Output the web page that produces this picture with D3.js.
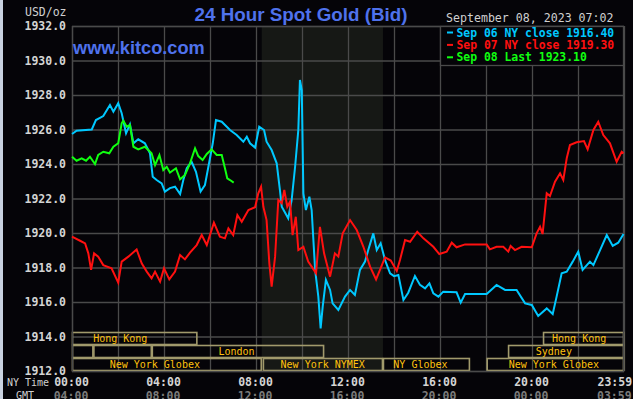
<!DOCTYPE html>
<html>
<head>
<meta charset="utf-8">
<script src="https://cdn.jsdelivr.net/npm/d3@7"></script>
<style>
  html, body { margin: 0; padding: 0; background: #050408; }
  svg { display: block; }
</style>
</head>
<body>
<div id="chart"></div>
<script>
// 24 hour spot gold chart, three days overlaid on a NY-time axis

// Sep 06 (cyan)
const sep06Hours = [0, 0.2, 0.86, 1.04, 1.36, 1.65, 1.8, 2.01, 2.16, 2.35, 2.52, 2.67, 2.88, 3.17, 3.39, 3.51, 3.68, 3.9,
  4.04, 4.26, 4.48, 4.7, 4.84, 4.99, 5.2, 5.39, 5.59, 5.78, 5.93, 6.12, 6.26, 6.51, 6.87, 7.16, 7.45, 7.6, 7.74, 7.96,
  8.14, 8.35, 8.46, 8.68, 8.9, 9.04, 9.12, 9.4, 9.55, 9.7, 9.84, 9.91, 9.99, 10.06, 10.17, 10.32, 10.42, 10.57, 10.71,
  10.81, 10.9, 11.04, 11.22, 11.33, 11.58, 11.87, 12.09, 12.3, 12.52, 12.74, 12.88, 13.1, 13.25, 13.42, 13.61, 13.83,
  14.0, 14.19, 14.41, 14.62, 14.91, 15.13, 15.35, 15.54, 15.71, 15.93, 16.14, 16.72, 16.9, 17.09, 18.03, 18.46, 18.83,
  19.33, 19.7, 19.99, 20.27, 20.64, 20.9, 21.07, 21.29, 21.51, 21.77, 22.01, 22.2, 22.52, 22.67, 22.96, 23.25, 23.51,
  23.75, 23.98];
const sep06Prices = [1925.74, 1925.93, 1926.0, 1926.55, 1926.78, 1927.42, 1927.03, 1927.52, 1926.94, 1925.78, 1926.3,
  1925.2, 1925.43, 1925.2, 1924.62, 1923.26, 1923.07, 1922.88, 1922.4, 1922.6, 1922.68, 1922.26, 1923.07, 1923.75,
  1924.13, 1923.55, 1922.4, 1922.78, 1923.84, 1925.2, 1926.55, 1926.45, 1925.97, 1925.68, 1925.29, 1925.58, 1925.2,
  1924.95, 1926.16, 1925.97, 1925.29, 1924.81, 1924.04, 1922.49, 1921.52, 1920.85, 1921.91, 1923.84, 1925.97, 1928.87,
  1928.29, 1922.3, 1921.33, 1922.1, 1921.33, 1917.86, 1916.31, 1914.47, 1915.73, 1917.28, 1916.7, 1915.92, 1915.54,
  1916.31, 1916.7, 1916.41, 1917.86, 1918.34, 1919.01, 1919.98, 1919.01, 1919.4, 1918.43, 1917.66, 1917.5, 1917.57,
  1916.12, 1916.54, 1917.51, 1916.99, 1916.79, 1917.08, 1916.5, 1916.31, 1916.6, 1916.56, 1915.96, 1916.46, 1916.46,
  1916.99, 1916.7, 1916.7, 1915.92, 1915.83, 1915.19, 1915.63, 1915.3, 1916.31, 1917.66, 1917.76, 1918.34, 1918.92,
  1917.86, 1918.34, 1918.14, 1919.01, 1919.88, 1919.25, 1919.44, 1919.94];

// Sep 07 (red)
const sep07Hours = [0, 0.35, 0.57, 0.71, 0.83, 0.96, 1.14, 1.36, 1.72, 2.01, 2.16, 2.45, 2.81, 3.03, 3.25, 3.46, 3.61,
  3.83, 4.0, 4.23, 4.48, 4.7, 4.91, 5.13, 5.42, 5.64, 5.86, 6.17, 6.43, 6.65, 6.8, 7.01, 7.19, 7.38, 7.67, 7.96, 8.1,
  8.22, 8.32, 8.46, 8.58, 8.68, 8.83, 8.97, 9.12, 9.23, 9.36, 9.48, 9.59, 9.73, 9.84, 10.06, 10.27, 10.42, 10.61,
  10.78, 10.96, 11.22, 11.43, 11.58, 11.77, 12.09, 12.38, 12.67, 12.96, 13.22, 13.39, 13.61, 13.86, 14.12, 14.26,
  14.48, 14.7, 15.01, 15.28, 15.71, 15.97, 16.29, 16.51, 16.72, 17.09, 18.03, 18.17, 18.46, 18.75, 18.97, 19.07,
  19.26, 19.55, 19.99, 20.2, 20.35, 20.46, 20.64, 20.78, 21.0, 21.22, 21.36, 21.51, 21.65, 21.94, 22.26, 22.42,
  22.67, 22.88, 23.1, 23.39, 23.68, 23.9, 23.98];
const sep07Prices = [1919.79, 1919.55, 1919.4, 1918.82, 1917.86, 1918.82, 1918.63, 1918.14, 1917.95, 1917.12, 1918.34,
  1918.63, 1919.05, 1918.24, 1917.76, 1917.37, 1917.76, 1917.18, 1917.95, 1917.31, 1917.76, 1918.72, 1918.47, 1918.86,
  1919.3, 1919.88, 1919.3, 1920.6, 1919.79, 1919.69, 1920.27, 1919.88, 1921.04, 1920.65, 1921.33, 1921.49, 1922.3,
  1922.68, 1921.52, 1920.75, 1918.24, 1916.89, 1918.63, 1921.91, 1921.72, 1922.49, 1921.52, 1921.81, 1919.88, 1920.94,
  1919.01, 1919.2, 1918.34, 1918.05, 1917.66, 1920.36, 1918.82, 1917.47, 1918.82, 1918.63, 1919.98, 1920.75, 1920.17,
  1919.2, 1918.05, 1917.31, 1917.86, 1918.59, 1918.4, 1917.8, 1918.43, 1919.59, 1919.49, 1920.07, 1919.69, 1919.2,
  1918.78, 1918.92, 1919.44, 1919.17, 1919.34, 1919.34, 1919.05, 1919.2, 1919.2, 1918.92, 1919.25, 1919.01, 1919.2,
  1919.17, 1919.98, 1920.36, 1919.94, 1922.3, 1922.14, 1922.97, 1923.46, 1923.07, 1924.33, 1925.1, 1925.26, 1925.33,
  1924.85, 1925.97, 1926.45, 1925.68, 1925.2, 1924.13, 1924.71, 1924.62];

// Sep 08 (green, partial day up to 07:02)
const sep08Hours = [0, 0.2, 0.42, 0.61, 0.78, 1.0, 1.14, 1.36, 1.62, 1.8, 2.01, 2.16, 2.23, 2.38, 2.52, 2.67, 2.88,
  3.17, 3.46, 3.61, 3.8, 3.97, 4.12, 4.26, 4.52, 4.7, 4.91, 5.13, 5.35, 5.49, 5.68, 5.86, 6.07, 6.29, 6.51, 6.65,
  6.75, 6.87, 7.03];
const sep08Prices = [1924.42, 1924.19, 1924.33, 1924.19, 1924.42, 1924.0, 1924.52, 1924.71, 1924.62, 1925.0, 1925.2,
  1926.36, 1926.51, 1926.16, 1926.26, 1925.0, 1924.85, 1925.0, 1924.62, 1923.94, 1924.52, 1923.65, 1923.84, 1923.5,
  1923.75, 1923.11, 1923.36, 1924.04, 1924.91, 1924.46, 1924.23, 1924.58, 1924.85, 1924.52, 1924.52, 1923.75,
  1923.17, 1923.07, 1922.92];

const legendLabels = ['Sep 06 NY close 1916.40', 'Sep 07 NY close 1919.30', 'Sep 08 Last 1923.10'];
const seriesColors = ['#00c8ff', '#ff1010', '#10ff10'];

const yTicks = [1912, 1914, 1916, 1918, 1920, 1922, 1924, 1926, 1928, 1930, 1932];
const gridHours = [0, 2, 4, 6, 8, 10, 12, 14, 16, 18, 20, 22, 24];
const nyTickHours = [0, 4, 8, 12, 16, 20, 23.983];
const nyTickLabels = ['00:00', '04:00', '08:00', '12:00', '16:00', '20:00', '23:59'];
const gmtTickLabels = ['04:00', '08:00', '12:00', '16:00', '20:00', '00:00', '03:59'];

// trading sessions strip (row 0 = top)
const sessionNames = ['Hong Kong', '', '', 'London', 'New York Globex', 'New York NYMEX', 'NY Globex',
  'New York Globex', 'Sydney', 'Hong Kong'];
const sessionStart = [0, 0, 0.93, 3.47, 0, 8.3, 13.52, 18.03, 18.96, 20.48];
const sessionEnd = [5.45, 0.93, 3.47, 10.96, 8.25, 13.52, 17.3, 24, 24, 24];
const sessionRow = [0, 1, 1, 1, 2, 2, 2, 2, 1, 0];
const sessionLabelHour = [2.1, 0, 0, 7.15, 3.6, 10.9, 15.15, 20.95, 20.95, 22.05];

const nymexHours = [8.25, 13.52];

const W = 633, H = 399;
const plotLeft = 72, plotRight = 624, plotTop = 26, plotBottom = 371;

const x = d3.scaleLinear().domain([0, 24]).range([plotLeft, plotRight]);
const y = d3.scaleLinear().domain([1912, 1932]).range([plotBottom, plotTop]);
const rowY = d3.scaleBand().domain([0, 1, 2]).range([332, 371]);

const mono = '"DejaVu Sans Mono", monospace';
const sans = '"Liberation Sans", Arial, sans-serif';

const svg = d3.select('#chart').append('svg')
  .attr('width', W)
  .attr('height', H);

svg.append('rect').attr('width', W).attr('height', H).attr('fill', '#050408');
// light strip on the left edge
svg.append('rect').attr('x', 0).attr('y', 0).attr('width', 3).attr('height', H).attr('fill', '#c9d2e0');

// NYMEX open hours shading
svg.append('rect')
  .attr('x', x(nymexHours[0]))
  .attr('y', plotTop)
  .attr('width', x(nymexHours[1]) - x(nymexHours[0]))
  .attr('height', plotBottom - plotTop)
  .attr('fill', '#161815');

// grid
const gridColor = '#4a4a4a';
svg.append('g')
  .selectAll('line')
  .data(yTicks)
  .join('line')
  .attr('x1', plotLeft).attr('x2', plotRight)
  .attr('y1', d => y(d) + 0.5).attr('y2', d => y(d) + 0.5)
  .attr('stroke', gridColor).attr('stroke-width', 1.3);

svg.append('g')
  .selectAll('line')
  .data(gridHours)
  .join('line')
  .attr('x1', d => Math.round(x(d)) + 0.5).attr('x2', d => Math.round(x(d)) + 0.5)
  .attr('y1', plotTop).attr('y2', plotBottom)
  .attr('stroke', gridColor).attr('stroke-width', 1.3);

// y axis labels
const yAxis = d3.axisLeft(y)
  .tickValues(yTicks)
  .tickFormat(d3.format('.1f'))
  .tickSize(0)
  .tickPadding(6);

svg.append('g')
  .attr('transform', `translate(${plotLeft},0)`)
  .call(yAxis)
  .call(g => g.select('.domain').remove())
  .selectAll('text')
  .attr('fill', '#d4d4d4')
  .style('font', `bold 11.5px ${mono}`);

// x axis: NY time and GMT
const xAxis = d3.axisBottom(x)
  .tickValues(nyTickHours)
  .tickFormat((d, i) => nyTickLabels[i])
  .tickSize(0)
  .tickPadding(7);

svg.append('g')
  .attr('transform', `translate(0,${plotBottom})`)
  .call(xAxis)
  .call(g => g.select('.domain').remove())
  .selectAll('text')
  .attr('fill', '#d4d4d4')
  .attr('text-anchor', (d, i) => i === nyTickHours.length - 1 ? 'end' : 'middle')
  .attr('dx', (d, i) => i === nyTickHours.length - 1 ? 8 : -1)
  .style('font', `bold 11.5px ${mono}`);

svg.append('g')
  .selectAll('text')
  .data(nyTickHours)
  .join('text')
  .attr('x', (d, i) => i === nyTickHours.length - 1 ? x(d) + 8 : x(d) - 1)
  .attr('y', 400)
  .attr('text-anchor', (d, i) => i === nyTickHours.length - 1 ? 'end' : 'middle')
  .attr('fill', '#7c7c7c')
  .style('font', `bold 11.5px ${mono}`)
  .text((d, i) => gmtTickLabels[i]);

svg.append('text').attr('x', 7).attr('y', 386)
  .attr('fill', '#d0d0d0').style('font', `10px ${mono}`).text('NY Time');
svg.append('text').attr('x', 16).attr('y', 399)
  .attr('fill', '#d0d0d0').style('font', `10px ${mono}`).text('GMT');

// session boxes
const sessions = sessionNames.map((name, i) => ({
  name, start: sessionStart[i], end: sessionEnd[i], row: sessionRow[i], lx: sessionLabelHour[i]
}));

const sg = svg.append('g');
sg.selectAll('rect')
  .data(sessions)
  .join('rect')
  .attr('x', d => x(d.start) + 0.5)
  .attr('y', d => rowY(d.row) + 0.5)
  .attr('width', d => x(d.end) - x(d.start) - 1)
  .attr('height', rowY.bandwidth() - 1)
  .attr('fill', 'none')
  .attr('stroke', '#a19a6c')
  .attr('stroke-width', 1.6);

sg.selectAll('text')
  .data(sessions.filter(d => d.name))
  .join('text')
  .attr('x', d => x(d.lx))
  .attr('y', d => rowY(d.row) + rowY.bandwidth() - 3)
  .attr('text-anchor', 'middle')
  .attr('fill', '#ffc20e')
  .style('font', `10px ${mono}`)
  .text(d => d.name);

// plot frame
svg.append('rect')
  .attr('x', plotLeft + 0.5).attr('y', plotTop + 0.5)
  .attr('width', plotRight - plotLeft - 1).attr('height', plotBottom - plotTop)
  .attr('fill', 'none')
  .attr('stroke', gridColor)
  .attr('stroke-width', 1.3);

// price lines
const series = [
  { hours: sep06Hours, prices: sep06Prices },
  { hours: sep07Hours, prices: sep07Prices },
  { hours: sep08Hours, prices: sep08Prices }
];

const line = d3.line()
  .x(d => x(d[0]))
  .y(d => y(d[1]));

series.forEach((s, i) => {
  const pts = s.hours.map((h, j) => [h, s.prices[j]]);
  svg.append('path')
    .datum(pts)
    .attr('fill', 'none')
    .attr('stroke', seriesColors[i])
    .attr('stroke-width', 2)
    .attr('stroke-linejoin', 'miter')
    .attr('d', line);
});

// legend
svg.append('rect')
  .attr('x', 440.5).attr('y', plotTop + 0.5)
  .attr('width', 183).attr('height', 39)
  .attr('fill', '#050408')
  .attr('stroke', gridColor)
  .attr('stroke-width', 1.3);

const lg = svg.append('g');
legendLabels.forEach((label, i) => {
  const by = 36.5 + i * 12.4;
  lg.append('rect')
    .attr('x', 447).attr('y', by - 5)
    .attr('width', 6).attr('height', 2)
    .attr('fill', seriesColors[i]);
  lg.append('text')
    .attr('x', 456.5).attr('y', by)
    .attr('fill', seriesColors[i])
    .style('font', `bold 11.4px ${mono}`)
    .text(label);
});

// titles
svg.append('text').attr('x', 25).attr('y', 16)
  .attr('fill', '#d0d0d0').style('font', `11.5px ${mono}`).text('USD/oz');

svg.append('text').attr('x', 301).attr('y', 20.5)
  .attr('text-anchor', 'middle')
  .attr('fill', '#4f72ec')
  .style('font', `bold 18.8px ${sans}`)
  .text('24 Hour Spot Gold (Bid)');

svg.append('text').attr('x', 446).attr('y', 22)
  .attr('fill', '#d0d0d0').style('font', `11.6px ${mono}`)
  .text('September 08, 2023 07:02');

svg.append('text').attr('x', 73).attr('y', 54.3)
  .attr('fill', '#4f72ec')
  .style('font', `bold 18.2px ${sans}`)
  .text('www.kitco.com');
</script>
</body>
</html>
